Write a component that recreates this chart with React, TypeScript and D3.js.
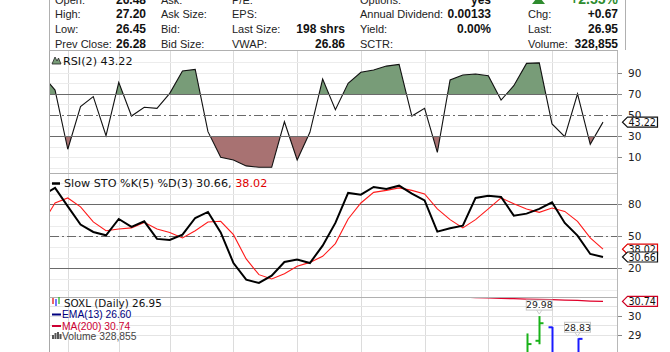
import React, { useEffect, useRef } from 'react';
import * as d3 from 'd3';

// quote header (label, value)
const quoteCol1 = [['Open:', '26.48'], ['High:', '27.20'], ['Low:', '26.45'], ['Prev Close:', '26.28']];
const quoteCol2 = [['Ask:', ''], ['Ask Size:', ''], ['Bid:', ''], ['Bid Size:', '']];
const quoteCol3 = [['P/E:', ''], ['EPS:', ''], ['Last Size:', '198 shrs'], ['VWAP:', '26.86']];
const quoteCol4 = [['Options:', 'yes'], ['Annual Dividend:', '0.00133'], ['Yield:', '0.00%'], ['SCTR:', '']];
const quoteCol5 = [['', '+2.55%'], ['Chg:', '+0.67'], ['Last:', '26.95'], ['Volume:', '328,855']];

// daily indicator values (oldest first)
const rsiValues = [88, 73.7, 17.5, 57.9, 67.4, 30.4, 81, 49, 57.3, 56.3, 70.5, 91.7, 93.3, 34.2, 9.9, 7.3, 1.7, 0.4, 0.4, 43.6,
  7.3, 33.6, 84.1, 55, 80, 90.5, 92.7, 96.4, 98, 49, 56.3, 14.6, 83.2, 88, 88.9, 87.3, 64.2, 77.8, 99, 99.5,
  41.5, 29.5, 70, 22.2, 43.22];
const stoK = [88.5, 95.4, 78.1, 61, 54.1, 51, 66.3, 58.8, 64.1, 47.6, 46.6, 51.6, 67.2, 72.9, 53.7, 25, 9.4, 6.3, 13.2, 26,
  28.2, 25, 41.3, 62.6, 90.7, 89.1, 96.3, 94.4, 97.5, 90, 83.7, 54.4, 57.5, 60, 86, 88.1, 86.9, 69.4, 71.3, 75.7,
  81.9, 62.6, 50.7, 33.5, 30.66];
const stoD = [61.7, 81.3, 86, 77.6, 63.5, 55.3, 56.9, 57.9, 63.1, 56.9, 53.7, 48.5, 55.3, 63.5, 64.1, 51.6, 28.8, 14.1, 10, 15,
  21.9, 25.6, 31.3, 43.2, 66.3, 81.3, 91.2, 93.1, 95.4, 93.1, 89.7, 75.7, 65.7, 57.9, 65.7, 75.7, 86, 80.6, 75.7, 72.5,
  76.6, 73.4, 64.1, 48.5, 38.02];
const ma200 = [31.72, 31.7, 31.68, 31.66, 31.64, 31.62, 31.6, 31.58, 31.56, 31.54, 31.52, 31.5, 31.48, 31.46, 31.44, 31.42,
  31.4, 31.38, 31.36, 31.34, 31.32, 31.3, 31.28, 31.25, 31.22, 31.19, 31.16, 31.13, 31.1, 31.07, 31.04, 31.01, 30.98,
  30.96, 30.94, 30.92, 30.9, 30.88, 30.86, 30.85, 30.83, 30.81, 30.79, 30.76, 30.74];

// last few price bars
const barIndex = [36, 37, 38, 39, 40, 41, 42, 43, 44];
const barOpen = [27.5, 27.7, 28.0, 28.7, 29.4, 27.9, 27.9, 27.9, 26.48];
const barHigh = [27.9, 28.0, 29.08, 29.98, 29.42, 28.0, 28.83, 28.0, 27.2];
const barLow = [27.2, 27.4, 27.9, 28.52, 27.7, 27.2, 27.6, 26.9, 26.45];
const barClose = [27.7, 27.9, 28.53, 29.61, 27.85, 27.5, 28.8, 26.28, 26.95];
const barGreen = [true, true, true, true, false, false, false, false, true];
const priceNotes = [{ i: 39, v: '29.98' }, { i: 42, v: '28.83' }];

// first trading day of each week
const weekStarts = [2, 6, 10, 15, 20, 25, 30, 35, 40];

const rsiTicks = [10, 30, 50, 70, 90];
const stoTicks = [20, 50, 80];
const priceTicks = [29, 30];

const SANS = "'Liberation Sans', Arial, sans-serif";
const VERD = "'DejaVu Sans', Verdana, sans-serif";

const App = () => {
  const svgRef = useRef<SVGSVGElement>(null);

  useEffect(() => {
    const svg = d3.select(svgRef.current);
    svg.selectAll('*').remove();

    const left = 49, right = 617;
    const x = d3.scaleLinear().domain([0, 44]).range([42.3, 603]);
    const idx = d3.range(rsiValues.length);

    const panels = { rsi: [50, 173], sto: [173, 297], price: [297, 352] };
    const yRsi = d3.scaleLinear().domain([0, 100]).range([167.7, 62.3]);
    const ySto = d3.scaleLinear().domain([0, 100]).range([289.7, 183]);
    const yPrice = d3.scaleLinear().domain([28, 31]).range([354.3, 296.4]);

    const defs = svg.append('defs');
    const clip = (id: string, x0: number, y0: number, w: number, h: number) => {
      defs.append('clipPath').attr('id', id).append('rect')
        .attr('x', x0).attr('y', y0).attr('width', w).attr('height', h);
      return `url(#${id})`;
    };

    // ---- quote header
    const head = svg.append('g');
    head.append('line').attr('x1', left + 0.5).attr('x2', left + 0.5).attr('y1', 0).attr('y2', 50).attr('stroke', '#b0b0b0');
    head.append('line').attr('x1', 625.5).attr('x2', 625.5).attr('y1', 0).attr('y2', 50).attr('stroke', '#b0b0b0');
    const rowY = [3.5, 18.3, 33.1, 47.9];
    const cols = [
      { data: quoteCol1, lx: 55, vx: 146 },
      { data: quoteCol2, lx: 161, vx: 225 },
      { data: quoteCol3, lx: 232, vx: 345 },
      { data: quoteCol4, lx: 360, vx: 491 },
      { data: quoteCol5, lx: 528, vx: 618 },
    ];
    cols.forEach(c => {
      c.data.forEach((d, r) => {
        head.append('text').attr('x', c.lx).attr('y', rowY[r])
          .style('font-family', SANS).style('font-size', '11px').attr('fill', '#222').text(d[0]);
        const green = d[1].startsWith('+2');
        head.append('text').attr('x', c.vx).attr('y', rowY[r]).attr('text-anchor', 'end')
          .style('font-family', SANS).style('font-size', green ? '14px' : '12px').style('font-weight', 'bold')
          .attr('fill', green ? '#2e8b2e' : '#111').text(d[1]);
      });
    });
    head.append('path').attr('d', 'M532,4 L545,4 L538.5,-4 Z').attr('fill', '#2e8b2e');

    // ---- vertical week grid
    svg.append('g').selectAll('line').data(weekStarts).enter().append('line')
      .attr('x1', d => Math.round(x(d)) + 0.5).attr('x2', d => Math.round(x(d)) + 0.5)
      .attr('y1', 51).attr('y2', 352).attr('stroke', '#dcdcdc');

    // ---- panel frames
    const frame = svg.append('g');
    frame.append('line').attr('x1', left + 0.5).attr('x2', left + 0.5).attr('y1', 50).attr('y2', 352).attr('stroke', '#a8a8a8');
    frame.append('line').attr('x1', right + 0.5).attr('x2', right + 0.5).attr('y1', 50).attr('y2', 352).attr('stroke', '#b8b8b8');
    [50, 173, 297].forEach(y => {
      frame.append('line').attr('x1', left).attr('x2', right + 1).attr('y1', y + 0.5).attr('y2', y + 0.5).attr('stroke', '#b0b0b0');
    });

    const hGrid = (scale: d3.ScaleLinear<number, number>, vals: number[], color: string) => {
      svg.append('g').selectAll('line').data(vals).enter().append('line')
        .attr('x1', left + 1).attr('x2', right)
        .attr('y1', d => Math.round(scale(d)) + 0.5).attr('y2', d => Math.round(scale(d)) + 0.5)
        .attr('stroke', color);
    };
    const refLines = (scale: d3.ScaleLinear<number, number>, solid: number[], mid: number) => {
      const g = svg.append('g');
      solid.forEach(v => g.append('line').attr('x1', left + 1).attr('x2', right)
        .attr('y1', Math.round(scale(v)) + 0.5).attr('y2', Math.round(scale(v)) + 0.5).attr('stroke', '#6a6a6a'));
      g.append('line').attr('x1', left + 1).attr('x2', right)
        .attr('y1', Math.round(scale(mid)) + 0.5).attr('y2', Math.round(scale(mid)) + 0.5)
        .attr('stroke', '#6a6a6a').attr('stroke-dasharray', '9,3,2,3');
    };
    const axisLabels = (scale: d3.ScaleLinear<number, number>, ticks: number[], fmt = (d: number) => String(d)) => {
      const g = svg.append('g');
      ticks.forEach(t => {
        g.append('line').attr('x1', right + 1).attr('x2', right + 5)
          .attr('y1', Math.round(scale(t)) + 0.5).attr('y2', Math.round(scale(t)) + 0.5).attr('stroke', '#888');
        g.append('text').attr('x', 628).attr('y', scale(t) + 4)
          .style('font-family', VERD).style('font-size', '10.5px').attr('fill', '#222').text(fmt(t));
      });
    };
    const tag = (y: number, text: string, stroke: string) => {
      const g = svg.append('g');
      g.append('path')
        .attr('d', `M622.5,${y} L627.5,${y - 5} L657.5,${y - 5} L657.5,${y + 5} L627.5,${y + 5} Z`)
        .attr('fill', '#fff').attr('stroke', stroke).attr('stroke-width', 1.2);
      g.append('text').attr('x', 628.5).attr('y', y + 3.8)
        .style('font-family', VERD).style('font-size', '9.6px').attr('fill', '#111').text(text);
    };

    // ---- RSI panel
    hGrid(yRsi, d3.range(0, 101, 10).filter(v => ![30, 50, 70].includes(v)), '#ececec');
    const rsiClip = clip('rsiClip', left + 1, panels.rsi[0] + 1, right - left - 1, panels.rsi[1] - panels.rsi[0] - 1);
    const rsiG = svg.append('g').attr('clip-path', rsiClip);
    const overClip = clip('rsiOver', left + 1, 50, right - left - 1, yRsi(70) - 50);
    const underClip = clip('rsiUnder', left + 1, yRsi(30), right - left - 1, 173 - yRsi(30));
    rsiG.append('path').datum(idx).attr('clip-path', overClip)
      .attr('d', d3.area<number>().x(i => x(i)).y0(yRsi(70)).y1(i => yRsi(rsiValues[i])))
      .attr('fill', '#789c78');
    rsiG.append('path').datum(idx).attr('clip-path', underClip)
      .attr('d', d3.area<number>().x(i => x(i)).y0(yRsi(30)).y1(i => yRsi(rsiValues[i])))
      .attr('fill', '#a87272');
    refLines(yRsi, [70, 30], 50);
    rsiG.append('path').datum(idx)
      .attr('d', d3.line<number>().x(i => x(i)).y(i => yRsi(rsiValues[i])))
      .attr('fill', 'none').attr('stroke', '#111').attr('stroke-width', 1.1);
    axisLabels(yRsi, rsiTicks);
    tag(yRsi(rsiValues[44]), '43.22', '#111');
    svg.append('path').attr('d', 'M52,64 L55,57 L57,61 L58.5,58 L61,64 Z')
      .attr('fill', '#789c78').attr('stroke', '#222').attr('stroke-width', 0.8);
    svg.append('text').attr('x', 63).attr('y', 65)
      .style('font-family', VERD).style('font-size', '11.2px').attr('fill', '#111').text('RSI(2) 43.22');

    // ---- Slow stochastic panel
    hGrid(ySto, d3.range(0, 101, 10), '#ececec');
    refLines(ySto, [80, 20], 50);
    const stoClip = clip('stoClip', left + 1, panels.sto[0] + 1, right - left - 1, panels.sto[1] - panels.sto[0] - 1);
    const stoG = svg.append('g').attr('clip-path', stoClip);
    stoG.append('path').datum(idx)
      .attr('d', d3.line<number>().x(i => x(i)).y(i => ySto(stoD[i])))
      .attr('fill', 'none').attr('stroke', '#ff1a1a').attr('stroke-width', 1.1);
    stoG.append('path').datum(idx)
      .attr('d', d3.line<number>().x(i => x(i)).y(i => ySto(stoK[i])))
      .attr('fill', 'none').attr('stroke', '#000').attr('stroke-width', 2);
    axisLabels(ySto, stoTicks);
    tag(ySto(stoD[44]), '38.02', '#e00000');
    tag(ySto(stoK[44]), '30.66', '#111');
    svg.append('line').attr('x1', 52).attr('x2', 60).attr('y1', 183.5).attr('y2', 183.5).attr('stroke', '#000').attr('stroke-width', 2.5);
    const stoLabel = svg.append('text').attr('x', 64).attr('y', 187)
      .style('font-family', VERD).style('font-size', '11.2px').attr('fill', '#111');
    stoLabel.append('tspan').text('Slow STO %K(5) %D(3) 30.66, ');
    stoLabel.append('tspan').attr('fill', '#e00000').text('38.02');

    // ---- price panel
    hGrid(yPrice, [29, 29.5, 30, 30.5], '#e4e4e4');
    const priceClip = clip('priceClip', left + 1, panels.price[0] + 1, right - left - 1, 60);
    const priceG = svg.append('g').attr('clip-path', priceClip);
    priceG.append('path').datum(idx)
      .attr('d', d3.line<number>().x(i => x(i)).y(i => yPrice(ma200[i])))
      .attr('fill', 'none').attr('stroke', '#e0002a').attr('stroke-width', 1.2);
    barIndex.forEach((bi, k) => {
      const color = barGreen[k] ? '#19b219' : '#1a1aff';
      const cx = Math.round(x(bi)) + 0.5;
      const g = priceG.append('g').attr('stroke', color).attr('stroke-width', 2);
      g.append('line').attr('x1', cx).attr('x2', cx).attr('y1', yPrice(barHigh[k])).attr('y2', yPrice(barLow[k]));
      g.append('line').attr('x1', cx - 4).attr('x2', cx).attr('y1', yPrice(barOpen[k])).attr('y2', yPrice(barOpen[k]));
      g.append('line').attr('x1', cx).attr('x2', cx + 4).attr('y1', yPrice(barClose[k])).attr('y2', yPrice(barClose[k]));
    });
    priceNotes.forEach(n => {
      const k = barIndex.indexOf(n.i);
      const cx = x(n.i);
      const top = yPrice(barHigh[k]);
      const g = svg.append('g');
      g.append('path')
        .attr('d', `M${cx - 3},${top - 6.5} L${cx},${top - 2} L${cx + 3},${top - 6.5}`)
        .attr('fill', '#fff').attr('stroke', '#ccc');
      g.append('rect').attr('x', cx - 13).attr('y', top - 16).attr('width', 26).attr('height', 10)
        .attr('fill', '#fff').attr('stroke', '#c8c8c8');
      g.append('text').attr('x', cx).attr('y', top - 7.6).attr('text-anchor', 'middle')
        .style('font-family', VERD).style('font-size', '9.3px').attr('fill', '#222').text(n.v);
    });
    axisLabels(yPrice, priceTicks);
    tag(yPrice(ma200[44]), '30.74', '#cc0022');

    // price legend
    const lg = svg.append('g');
    lg.append('line').attr('x1', 53).attr('x2', 53).attr('y1', 298).attr('y2', 304).attr('stroke', '#e00000').attr('stroke-width', 1.2);
    lg.append('line').attr('x1', 56).attr('x2', 56).attr('y1', 299).attr('y2', 306).attr('stroke', '#1a1aff').attr('stroke-width', 1.2);
    lg.append('line').attr('x1', 59).attr('x2', 59).attr('y1', 297).attr('y2', 304).attr('stroke', '#19b219').attr('stroke-width', 1.2);
    lg.append('text').attr('x', 64).attr('y', 306.5)
      .style('font-family', VERD).style('font-size', '10.4px').attr('fill', '#111').text('SOXL (Daily) 26.95');
    const legendRows = [
      { t: 'EMA(13) 26.60', c: '#00007f', y: 318 },
      { t: 'MA(200) 30.74', c: '#cc0033', y: 329.5 },
    ];
    legendRows.forEach(r => {
      lg.append('line').attr('x1', 52).attr('x2', 61).attr('y1', r.y - 3.5).attr('y2', r.y - 3.5).attr('stroke', r.c).attr('stroke-width', 2);
      lg.append('text').attr('x', 62).attr('y', r.y)
        .style('font-family', SANS).style('font-size', '10.3px').attr('fill', r.c).text(r.t);
    });
    [[53, 4], [55.5, 6], [58, 7], [60.5, 5]].forEach(([bx, h]) => {
      lg.append('rect').attr('x', bx - 1).attr('y', 339 - h).attr('width', 2).attr('height', h).attr('fill', '#555');
    });
    lg.append('text').attr('x', 62).attr('y', 339.5)
      .style('font-family', SANS).style('font-size', '10.3px').attr('fill', '#444').text('Volume 328,855');
  }, []);

  return (
    <svg ref={svgRef} width={670} height={352}
      style={{ position: 'absolute', left: 0, top: 0, background: '#fff' }} />
  );
};

export default App;
